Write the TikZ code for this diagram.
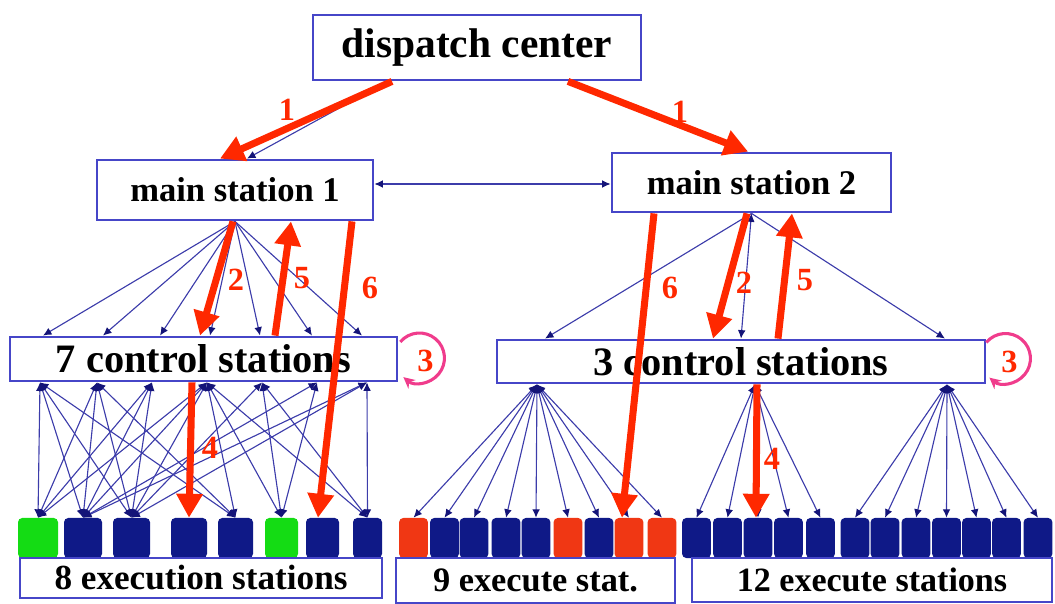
\documentclass[tikz,border=0pt]{standalone}
\usepackage{fontspec}
\setmainfont{Liberation Serif}
\usetikzlibrary{arrows.meta,calc}
\definecolor{boxblue}{RGB}{70,70,200}
\definecolor{linkblue}{RGB}{60,60,170}
\definecolor{headnavy}{RGB}{20,20,120}
\definecolor{navysq}{RGB}{15,25,135}
\definecolor{greensq}{RGB}{20,220,20}
\definecolor{redsq}{RGB}{240,55,20}
\definecolor{arrred}{RGB}{255,40,0}
\definecolor{pinkloop}{RGB}{240,60,140}
\newcommand{\fsz}[1]{\fontsize{#1}{#1}\selectfont}
\begin{document}
\begin{tikzpicture}[x=0.025cm,y=-0.025cm,
    box/.style={draw=boxblue,line width=2pt,fill=white,inner sep=0pt},
    sq/.style={rounded corners=3pt,inner sep=0pt,minimum height=1cm},
    fan/.style={draw=linkblue,line width=0.8pt,-{Latex[length=6pt,width=5.5pt,color=headnavy]}},
    fanb/.style={draw=linkblue,line width=0.8pt,{Latex[length=6pt,width=5.5pt,color=headnavy]}-{Latex[length=6pt,width=5.5pt,color=headnavy]}},
    redarrow/.style={draw=arrred,line width=5pt,-{Triangle[length=17pt,width=18pt]}},
    lbl/.style={text=arrred,font=\bfseries\fsz{23}},
    loopy/.style={draw=pinkloop,line width=2.2pt,-{Stealth[length=8pt,width=8pt]}}]
  \useasboundingbox (0,0) rectangle (1055,604);

  % execution squares
  \foreach \x/\w/\c [count=\i] in {38/40/greensq,83/38/navysq,131.5/37/navysq,189/36/navysq,
      235.5/35/navysq,281.5/33/greensq,322.5/33/navysq,367.5/29/navysq}
    \node[sq,fill=\c,minimum width=\w*0.025cm] (e\i) at (\x,538) {};
  \foreach \x/\c [count=\i] in {413.5/redsq,444.5/navysq,474/navysq,506/navysq,536/navysq,
      568/redsq,599/navysq,629/redsq,662/redsq}
    \node[sq,fill=\c,minimum width=0.72cm] (m\i) at (\x,538) {};
  \foreach \x [count=\i] in {696.5,727.5,758,788.5,820.5,855,885,916,946.5,976.5,1006.5,1038}
    \node[sq,fill=navysq,minimum width=0.72cm] (r\i) at (\x,538) {};

  % boxes
  \node[box,minimum width=8.2cm,minimum height=1.625cm,font=\bfseries\fsz{29.5}] (disp) at (477,47.5) {dispatch center};
  \node[box,minimum width=6.9cm,minimum height=1.5cm,font=\bfseries\fsz{24.6}] (ms1) at (235,190) {main station 1};
  \node[box,minimum width=6.975cm,minimum height=1.475cm,font=\bfseries\fsz{24.6}] (ms2) at (751.5,182.5) {main station 2};
  \node[box,minimum width=9.675cm,minimum height=1.1cm,font=\bfseries\fsz{28.7}] (cs7) at (203.5,359) {7 control stations};
  \node[box,minimum width=12.2cm,minimum height=1.075cm,font=\bfseries\fsz{28.7}] (cs3) at (741,361.5) {3 control stations};
  \node[box,minimum width=9.05cm,minimum height=1cm,font=\bfseries\fsz{25}] (es8) at (201,578) {8 execution stations};
  \node[box,minimum width=6.975cm,minimum height=1.125cm,font=\bfseries\fsz{24.4}] (es9) at (535.5,580.5) {9 execute stat.};
  \node[box,minimum width=9cm,minimum height=1.1cm,font=\bfseries\fsz{24.2}] (es12) at (872,580) {12 execute stations};

  % blue links
  \draw[fan] (disp.south -| 388,0) -- (ms1.north -| 247,0);
  \draw[fan] (disp.south -| 570,0) -- (ms2.north -| 748,0);
  \draw[fanb] (ms1.east |- 0,184) -- (ms2.west |- 0,184);
  \foreach \x in {43,103,160,210,260,312,362}
    \draw[fan] (ms1.south) -- (cs7.north -| \x,0);
  \draw[fan] (ms2.south) -- (cs3.north -| 545,0);
  \draw[fanb] (ms2.south) -- (cs3.north);
  \draw[fan] (ms2.south) -- (cs3.north -| 945,0);
  \foreach \t/\b in {40/1,40/2,40/3,40/5,97/1,97/2,97/3,97/5,152/1,152/2,152/3,
      207/1,207/2,207/3,207/5,207/6,207/8,262/3,262/6,262/8,317/2,317/6,367/2,367/3,367/8}
    \draw[fanb] (cs7.south -| \t,0) -- (e\b.north);
  \foreach \i in {1,...,9}
    \draw[fanb] (cs3.south -| 537,0) -- (m\i.north);
  \foreach \i in {1,...,5}
    \draw[fanb] (cs3.south -| 755,0) -- (r\i.north);
  \foreach \i in {6,...,12}
    \draw[fanb] (cs3.south -| 947,0) -- (r\i.north);

  % self loops
  \coordinate (lp7) at ($(cs7.east)+(21,-1)$);
  \coordinate (lp3) at ($(cs3.east)+(19,-3)$);
  \draw[loopy] ($(lp7)+(-140:25)$) arc[start angle=-140,end angle=130,radius=25];
  \draw[loopy] ($(lp3)+(-140:25)$) arc[start angle=-140,end angle=130,radius=25];
  \node[lbl] (n3a) at ($(lp7)+(6,3)$) {3};
  \node[lbl] (n3b) at ($(lp3)+(4,3)$) {3};

  % red steps
  \draw[redarrow] (disp.south -| 392,0) -- (ms1.north -| 220,0);
  \draw[redarrow] (disp.south -| 568,0) -- (ms2.north -| 748,0);
  \draw[redarrow] (ms1.south -| 233,0) -- (cs7.north -| 200,0);
  \draw[redarrow] (cs7.north -| 275,0) -- (ms1.south -| 291,0);
  \draw[redarrow] (ms1.south -| 352,0) -- (e7.north -| 318,0);
  \draw[redarrow] (cs7.south -| 192,0) -- (e4.north);
  \draw[redarrow] (ms2.south -| 654,0) -- (m8.north -| 622,0);
  \draw[redarrow] (ms2.south -| 747,0) -- (cs3.north -| 713,0);
  \draw[redarrow] (cs3.north -| 778,0) -- (ms2.south -| 792,0);
  \draw[redarrow] (cs3.south -| 757,0) -- (r3.north -| 756,0);
  \node[lbl] (l1a) at (287,110) {1};
  \node[lbl] (l1b) at (680,112) {1};
  \node[lbl] (l2a) at (236,280) {2};
  \node[lbl] (l5a) at (302,278) {5};
  \node[lbl] (l6a) at (370,288) {6};
  \node[lbl] (l4a) at (210,448) {4};
  \node[lbl] (l6b) at (670,288) {6};
  \node[lbl] (l2b) at (744,283) {2};
  \node[lbl] (l5b) at (805,280) {5};
  \node[lbl] (l4b) at (772,459) {4};
\end{tikzpicture}
\end{document}
